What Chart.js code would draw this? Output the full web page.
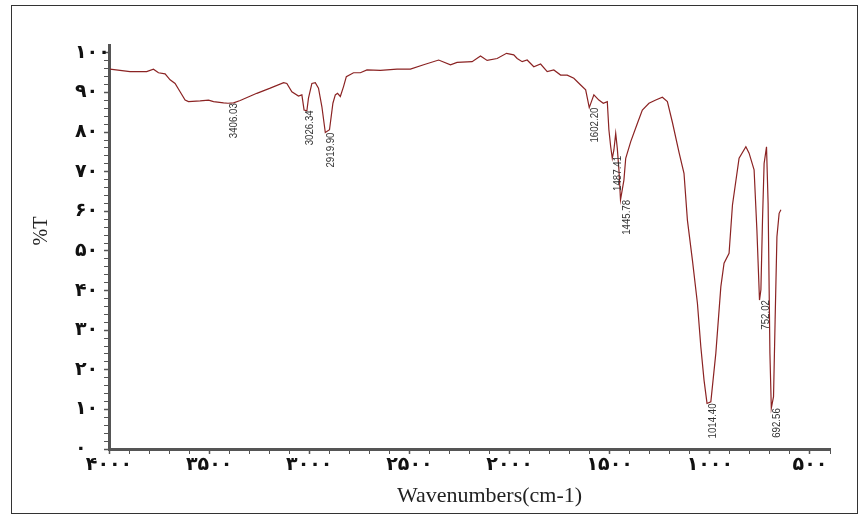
<!DOCTYPE html>
<html>
<head>
<meta charset="utf-8">
<script src="https://cdn.jsdelivr.net/npm/chart.js@4.4.1/dist/chart.umd.min.js"></script>
<style>
    html, body { margin: 0; padding: 0; background: #fff; }
    #wrap { position: relative; width: 867px; height: 523px; }
    #frame { position: absolute; left: 11px; top: 5px; width: 845px; height: 507px; border: 1px solid #333; }
    canvas { position: absolute; left: 0; top: 0; }
</style>
</head>
<body>
<div id="wrap">
    <div id="frame"></div>
    <canvas id="ftir_chart" width="867" height="523"></canvas>
</div>
<script>
// spectrum (cm-1, %T)
const waveNumbers = [
    3995, 3895, 3812, 3778, 3753, 3720, 3695, 3670, 3645, 3620,
    3603, 3545, 3503, 3478, 3428, 3406, 3378, 3345, 3262, 3195,
    3128, 3112, 3087, 3054, 3037, 3026, 3012, 3004, 2987, 2970,
    2954, 2937, 2920, 2899, 2882, 2870, 2859, 2845, 2829, 2815,
    2779, 2745, 2712, 2645, 2562, 2495, 2429, 2354, 2295, 2262,
    2187, 2145, 2112, 2062, 2015, 1979, 1962, 1937, 1912, 1879,
    1845, 1812, 1779, 1745, 1712, 1679, 1645, 1620, 1602, 1579,
    1554, 1532, 1512, 1504, 1495, 1487, 1479, 1470, 1462, 1454,
    1446, 1429, 1420, 1395, 1362, 1337, 1304, 1270, 1237, 1212,
    1187, 1153, 1129, 1112, 1087, 1062, 1045, 1029, 1014, 995,
    970, 945, 929, 904, 887, 854, 820, 804, 779, 765,
    752, 745, 737, 729, 717, 709, 700, 693, 682, 674,
    665, 654, 645
];
const transmittance = [
    95.9, 95.3, 95.3, 95.9, 95.0, 94.7, 93.2, 92.3, 90.2, 88.1,
    87.7, 87.9, 88.1, 87.7, 87.4, 87.3, 87.4, 88.0, 89.8, 91.1,
    92.5, 92.3, 90.2, 89.1, 89.4, 85.6, 85.4, 88.6, 92.3, 92.5,
    91.1, 86.4, 79.9, 80.6, 87.3, 89.4, 89.8, 89.0, 91.5, 94.0,
    95.0, 95.0, 95.7, 95.6, 95.9, 95.9, 97.0, 98.2, 97.0, 97.6,
    97.8, 99.2, 98.1, 98.6, 99.9, 99.5, 98.6, 97.8, 98.2, 96.5,
    97.2, 95.3, 95.7, 94.4, 94.4, 93.6, 91.9, 90.7, 86.2, 89.4,
    88.1, 87.3, 87.7, 80.6, 76.3, 73.4, 75.5, 79.7, 75.9, 70.5,
    62.9, 67.9, 73.4, 77.6, 82.2, 85.6, 87.3, 88.1, 88.8, 87.7,
    82.5, 74.7, 69.6, 57.8, 47.7, 36.8, 25.8, 17.4, 11.5, 11.9,
    24.2, 41.0, 46.9, 49.4, 61.6, 73.4, 76.3, 74.7, 70.5, 55.3,
    37.6, 40.2, 57.8, 72.1, 76.3, 62.0, 24.2, 10.3, 13.2, 32.6,
    53.6, 59.5, 60.4
];

// peak picks
const peakLabels = ['3406.03', '3026.34', '2919.90', '1602.20', '1487.41', '1445.78', '1014.40', '752.02', '692.56'];
const peakWaves = [3406.03, 3026.34, 2919.90, 1602.20, 1487.41, 1445.78, 1014.40, 752.02, 692.56];
const peakT = [87.3, 85.5, 79.9, 86.2, 74.0, 62.9, 11.5, 37.6, 10.3];

// axis ticks (Persian digits, as in the picture)
const xTickValues = [4000, 3500, 3000, 2500, 2000, 1500, 1000, 500];
const xTickLabels = ['۴۰۰۰', '۳۵۰۰', '۳۰۰۰', '۲۵۰۰', '۲۰۰۰', '۱۵۰۰', '۱۰۰۰', '۵۰۰'];
const yTickValues = [0, 10, 20, 30, 40, 50, 60, 70, 80, 90, 100];
const yTickLabels = ['۰', '۱۰', '۲۰', '۳۰', '۴۰', '۵۰', '۶۰', '۷۰', '۸۰', '۹۰', '۱۰۰'];

const axisColor = '#555';

const peak_label_plugin = {
    id: 'peak_labels',
    afterDatasetsDraw(chart) {
        const { ctx, scales } = chart;
        ctx.save();
        ctx.font = '11px "Liberation Sans", Arial, sans-serif';
        ctx.fillStyle = '#333';
        ctx.textAlign = 'right';
        ctx.textBaseline = 'middle';
        peakWaves.forEach((w, i) => {
            const px = scales.x.getPixelForValue(w) + 6;
            const py = scales.y.getPixelForValue(peakT[i]);
            ctx.save();
            ctx.translate(px, py);
            ctx.rotate(-Math.PI / 2);
            ctx.scale(0.88, 1);
            ctx.fillText(peakLabels[i], 0, 0);
            ctx.restore();
        });
        ctx.restore();
    }
};

const axis_title_plugin = {
    id: 'axis_titles',
    afterDraw(chart) {
        const ctx = chart.ctx;
        const area = chart.chartArea;
        ctx.save();
        ctx.fillStyle = '#222';
        ctx.textAlign = 'center';
        ctx.textBaseline = 'middle';
        ctx.font = '22px "Liberation Serif", "Times New Roman", serif';
        ctx.fillText('Wavenumbers(cm-1)', (area.left + area.right) / 2 + 20, 496);
        ctx.translate(42, 231);
        ctx.rotate(-Math.PI / 2);
        ctx.font = '20px "Liberation Serif", "Times New Roman", serif';
        ctx.fillText('%T', 0, 0);
        ctx.restore();
    }
};

const points = waveNumbers.map((w, i) => ({ x: w, y: transmittance[i] }));

const ctx = document.getElementById('ftir_chart').getContext('2d');
window.myChart = new Chart(ctx, {
    type: 'line',
    data: {
        datasets: [{
            data: points,
            borderColor: '#8b2323',
            borderWidth: 1.2,
            pointRadius: 0,
            fill: false,
            tension: 0,
        }]
    },
    options: {
        responsive: false,
        devicePixelRatio: 1,
        animation: false,
        layout: {
            padding: { left: 75, right: 37, top: 45, bottom: 0 }
        },
        scales: {
            x: {
                type: 'linear',
                reverse: true,
                min: 400,
                max: 4000,
                afterBuildTicks: axis => {
                    const t = [];
                    for (let v = 4000; v >= 400; v -= 100) t.push({ value: v });
                    axis.ticks = t;
                },
                afterFit: axis => { axis.height = 74; },
                border: { color: axisColor, width: 3 },
                grid: {
                    drawOnChartArea: false,
                    tickLength: 5,
                    tickColor: axisColor,
                    tickWidth: c => (c.tick && xTickValues.includes(c.tick.value)) ? 1.5 : 1,
                },
                ticks: {
                    autoSkip: false,
                    maxRotation: 0,
                    padding: 0,
                    color: '#111',
                    font: { family: '"DejaVu Sans"', size: 19, weight: 'bold' },
                    callback: value => {
                        const i = xTickValues.indexOf(value);
                        return i >= 0 ? xTickLabels[i] : '';
                    }
                }
            },
            y: {
                min: 0,
                max: 102,
                afterBuildTicks: axis => {
                    const t = [];
                    for (let v = 0; v <= 100; v += 2) t.push({ value: v });
                    axis.ticks = t;
                },
                afterFit: axis => { axis.width = 34; },
                border: { color: axisColor, width: 3 },
                grid: {
                    drawOnChartArea: false,
                    tickLength: 5,
                    tickColor: axisColor,
                    tickWidth: c => (c.tick && yTickValues.includes(c.tick.value)) ? 1.5 : 1,
                },
                ticks: {
                    autoSkip: false,
                    crossAlign: 'far',
                    color: '#111',
                    font: { family: '"DejaVu Sans"', size: 19, weight: 'bold' },
                    callback: value => {
                        const i = yTickValues.indexOf(value);
                        return i >= 0 ? yTickLabels[i] : '';
                    }
                }
            }
        },
        plugins: {
            legend: { display: false },
            tooltip: { enabled: false }
        }
    },
    plugins: [peak_label_plugin, axis_title_plugin]
});
</script>
</body>
</html>
